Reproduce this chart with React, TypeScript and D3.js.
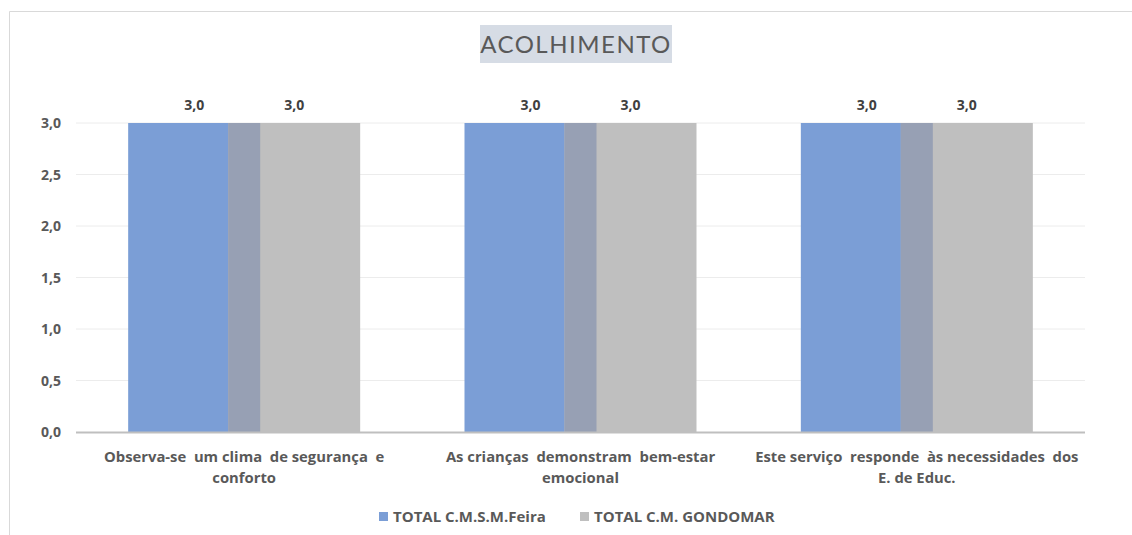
import React from "react";
import * as d3 from "d3";

const categories = [
  ["Observa-se  um clima  de segurança  e", "conforto"],
  ["As crianças  demonstram  bem-estar", "emocional"],
  ["Este serviço  responde  às necessidades  dos", "E. de Educ."],
];
const seriesNames = ["TOTAL C.M.S.M.Feira", "TOTAL C.M. GONDOMAR"];
const feira = [3.0, 3.0, 3.0];
const gondomar = [3.0, 3.0, 3.0];
const yTicks = [0, 0.5, 1.0, 1.5, 2.0, 2.5, 3.0];
const title = "ACOLHIMENTO";

const W = 1132;
const H = 535;
const FONT = "Lato, 'Open Sans', sans-serif";
const BFONT = "'Open Sans', Lato, sans-serif";
const TXT = "#595959";

export default function App() {
  const left = 76, right = 1085, top = 123, bottom = 432;
  const x = d3.scaleBand<number>().domain([0, 1, 2]).range([left, right]).paddingInner(0).paddingOuter(0);
  const y = d3.scaleLinear().domain([0, 3]).range([bottom, top]);
  const bw = 132;
  const overlap = 32;
  const colors = ["#7b9ed6", "#bfbfbf"];
  const overlapColor = "#97a0b4";
  const series = [feira, gondomar];
  const fmt = (v: number) => v.toFixed(1).replace(".", ",");
  const barX = (i: number, si: number) => {
    const c = x(i)! + x.bandwidth() / 2;
    const total = bw * 2 - overlap;
    return c - total / 2 + si * (bw - overlap);
  };

  return (
    <svg width={W} height={H} style={{ position: "absolute", left: 0, top: 0, background: "#fff" }}>
      <rect x={0} y={0} width={W} height={H} fill="#fff" />
      <line x1={9.5} y1={11.5} x2={W} y2={11.5} stroke="#d9d9d9" />
      <line x1={9.5} y1={11.5} x2={9.5} y2={H} stroke="#d9d9d9" />
      {/* title */}
      <rect x={480} y={25} width={192} height={38} fill="#d6dce5" />
      <text x={576} y={53} textAnchor="middle" fontFamily={FONT} fontSize={24} fill={TXT} letterSpacing={1.5}>
        {title}
      </text>
      {/* gridlines */}
      {yTicks.map((t) => (
        <g key={t}>
          {t > 0 && <line x1={left} x2={right} y1={y(t)} y2={y(t)} stroke="#ececec" strokeWidth={1} />}
          <text x={61} y={y(t) + 5} textAnchor="end" fontFamily={BFONT} fontWeight="bold" fontSize={14} fill={TXT}>
            {fmt(t)}
          </text>
        </g>
      ))}
      {/* bars */}
      {series.map((vals, si) =>
        vals.map((v, i) => {
          const x0 = barX(i, si);
          return (
            <g key={si + "-" + i}>
              <rect x={x0} y={y(v)} width={bw} height={y(0) - y(v)} fill={colors[si]} />
            </g>
          );
        })
      )}
      {feira.map((v, i) => {
        const v2 = gondomar[i];
        const xs = barX(i, 1);
        const xe = barX(i, 0) + bw;
        const m = Math.min(v, v2);
        return <rect key={"ov" + i} x={xs} width={xe - xs} y={y(m)} height={y(0) - y(m)} fill={overlapColor} />;
      })}
      {series.map((vals, si) =>
        vals.map((v, i) => (
          <text key={"l" + si + i} x={barX(i, si) + bw / 2} y={y(v) - 13} textAnchor="middle" fontFamily={BFONT} fontWeight="bold" fontSize={14} fill="#404040">
            {fmt(v)}
          </text>
        ))
      )}
      <line x1={left} x2={right} y1={bottom + 0.5} y2={bottom + 0.5} stroke="#bfbfbf" strokeWidth={2} />
      {/* category labels */}
      {categories.map((lines, i) => {
        const c = x(i)! + x.bandwidth() / 2;
        return (
          <text key={i} textAnchor="middle" fontFamily={BFONT} fontWeight="bold" fontSize={14.8} fill={TXT}>
            {lines.map((l, j) => (
              <tspan key={j} x={c} y={462 + j * 20.5} style={{ whiteSpace: "pre" }}>
                {l}
              </tspan>
            ))}
          </text>
        );
      })}
      {/* legend */}
      {seriesNames.map((n, i) => {
        const lx = [379, 580][i];
        return (
          <g key={n}>
            <rect x={lx} y={512} width={9} height={9} fill={colors[i]} />
            <text x={lx + 14} y={522} fontFamily={BFONT} fontWeight="bold" fontSize={15} fill={TXT}>
              {n}
            </text>
          </g>
        );
      })}
    </svg>
  );
}
